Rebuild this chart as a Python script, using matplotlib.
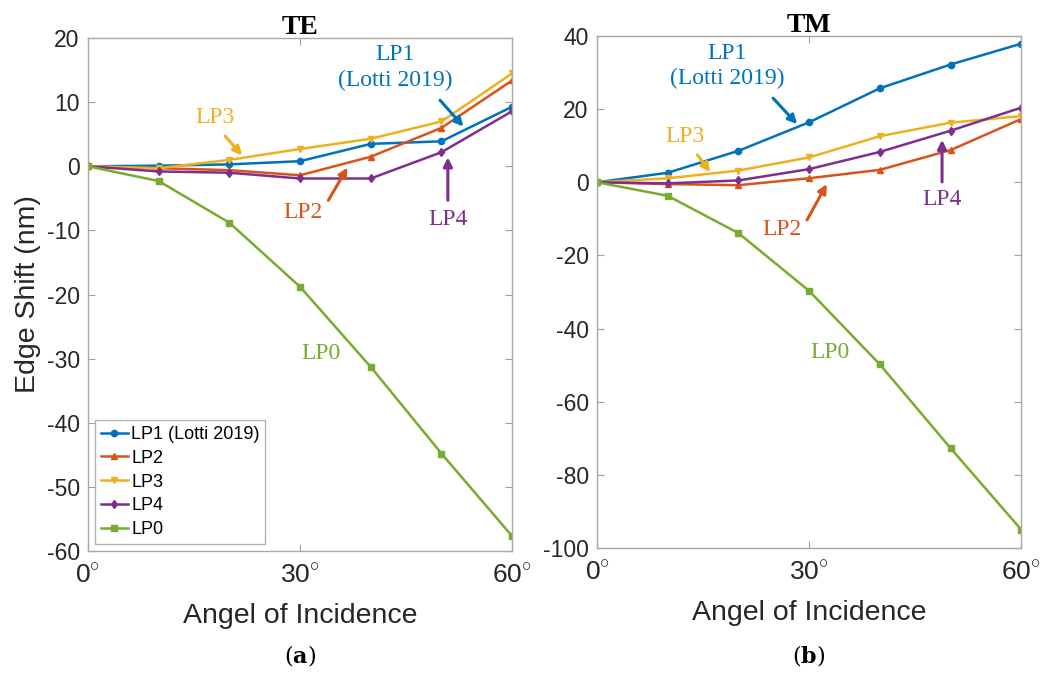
import numpy as np
import matplotlib
matplotlib.use("Agg")
import matplotlib.pyplot as plt

plt.rcParams['font.family'] = ['Liberation Sans', 'DejaVu Sans']
plt.rcParams['mathtext.fontset'] = 'custom'
plt.rcParams['mathtext.rm'] = 'Liberation Sans'
plt.rcParams['axes.unicode_minus'] = False

# incidence angles (deg)
angles = [0, 10, 20, 30, 40, 50, 60]

# TE edge shift (nm)
te_lp1 = [0, 0.1, 0.3, 0.8, 3.5, 3.9, 9.3]
te_lp2 = [0, -0.3, -0.6, -1.4, 1.5, 6.0, 13.4]
te_lp3 = [0, -0.3, 1.0, 2.7, 4.3, 7.0, 14.5]
te_lp4 = [0, -0.8, -1.0, -1.9, -1.9, 2.2, 8.6]
te_lp0 = [0, -2.3, -8.8, -18.8, -31.3, -44.8, -57.7]

# TM edge shift (nm)
tm_lp1 = [0, 2.6, 8.6, 16.4, 25.7, 32.2, 37.9]
tm_lp2 = [0, -0.5, -0.8, 1.1, 3.4, 8.8, 17.3]
tm_lp3 = [0, 1.1, 3.2, 6.8, 12.6, 16.3, 18.1]
tm_lp4 = [0, -0.3, 0.5, 3.6, 8.3, 14.1, 20.4]
tm_lp0 = [0, -3.7, -13.9, -29.7, -49.8, -72.7, -95.0]

labels = ['LP1 (Lotti 2019)', 'LP2', 'LP3', 'LP4', 'LP0']
colors = ['#0072BD', '#D95319', '#EDB120', '#7E2F8E', '#77AC30']
markers = ['o', '^', 'v', 'd', 's']

xticks = [0, 30, 60]
xticklabels = [r'$0^{\circ}$', r'$30^{\circ}$', r'$60^{\circ}$']

fig = plt.figure(figsize=(10.5, 6.74), dpi=100)
ax1 = fig.add_axes([0.0838, 0.1825, 0.404, 0.761])
ax2 = fig.add_axes([0.5686, 0.187, 0.404, 0.7596])

serif = ['Liberation Serif', 'DejaVu Serif']


def style(ax, ylim, yticks, title):
    ax.set_xlim(0, 60)
    ax.set_ylim(*ylim)
    ax.set_xticks(xticks)
    ax.set_xticklabels(xticklabels)
    ax.set_yticks(yticks)
    ax.tick_params(direction='in', top=True, right=True,
                   colors='#a0a0a0', labelcolor='#262626', length=5)
    ax.tick_params(axis='x', labelsize=19, pad=9)
    ax.tick_params(axis='y', labelsize=16.5, pad=6)
    for s in ax.spines.values():
        s.set_color('#a8a8a8')
        s.set_linewidth(1.0)
    ax.set_xlabel('Angel of Incidence', fontsize=20.5, color='#262626', labelpad=11)
    ax.set_title(title, fontsize=20, fontweight='bold', family=serif, pad=3)


def plot_set(ax, series):
    for y, lab, c, m in zip(series, labels, colors, markers):
        ax.plot(angles, y, color=c, marker=m, markersize=4.5, lw=1.8, label=lab)


def note(ax, text, xy, xytext, color, tail=None):
    ax.text(xytext[0], xytext[1], text, color=color, fontsize=17, family=serif,
            ha='center', va='center', linespacing=1.25)
    if tail is not None:
        ax.annotate('', xy=xy, xytext=tail,
                    arrowprops=dict(arrowstyle='-|>', color=color, lw=2.2,
                                    mutation_scale=13, shrinkA=0, shrinkB=0))


plot_set(ax1, [te_lp1, te_lp2, te_lp3, te_lp4, te_lp0])
style(ax1, (-60, 20), np.arange(-60, 21, 10), 'TE')
ax1.set_ylabel('Edge Shift (nm)', fontsize=20.5, color='#262626', labelpad=4)
leg = ax1.legend(loc='lower left', fontsize=13, handlelength=1.5, handletextpad=0.2,
                 borderpad=0.3, labelspacing=0.38, borderaxespad=0.4, fancybox=False)
leg.get_frame().set_edgecolor('#a0a0a0')
leg.get_frame().set_linewidth(1.0)

note(ax1, 'LP1\n(Lotti 2019)', (53.1, 6.2), (43.4, 15.4), colors[0], tail=(49.8, 10.3))
note(ax1, 'LP3', (21.8, 1.7), (18.0, 7.6), colors[2], tail=(19.4, 4.7))
note(ax1, 'LP2', (36.7, -0.2), (30.4, -7.2), colors[1], tail=(34.0, -5.3))
note(ax1, 'LP4', (50.9, 1.4), (50.9, -8.3), colors[3], tail=(50.9, -5.3))
note(ax1, 'LP0', None, (33.0, -29.2), colors[4])

plot_set(ax2, [tm_lp1, tm_lp2, tm_lp3, tm_lp4, tm_lp0])
style(ax2, (-100, 40), np.arange(-100, 41, 20), 'TM')

note(ax2, 'LP1\n(Lotti 2019)', (28.3, 15.9), (18.4, 31.8), colors[0], tail=(24.9, 23.0))
note(ax2, 'LP3', (16.0, 2.8), (12.5, 12.6), colors[2], tail=(14.2, 7.5))
note(ax2, 'LP2', (32.5, -0.5), (26.2, -13.0), colors[1], tail=(29.7, -10.3))
note(ax2, 'LP4', (48.8, 11.6), (48.8, -4.8), colors[3], tail=(48.8, 0.1))
note(ax2, 'LP0', None, (33.0, -46.6), colors[4])

# panel captions with bold letters
for xc, letter in [(300, 'a'), (809, 'b')]:
    fig.text(xc / 1050, 1 - 655 / 674, r'$(\mathbf{' + letter + r'})$', fontsize=16,
             ha='center', va='center', math_fontfamily='dejavuserif')

fig.savefig('out.png', dpi=100, facecolor='white')
